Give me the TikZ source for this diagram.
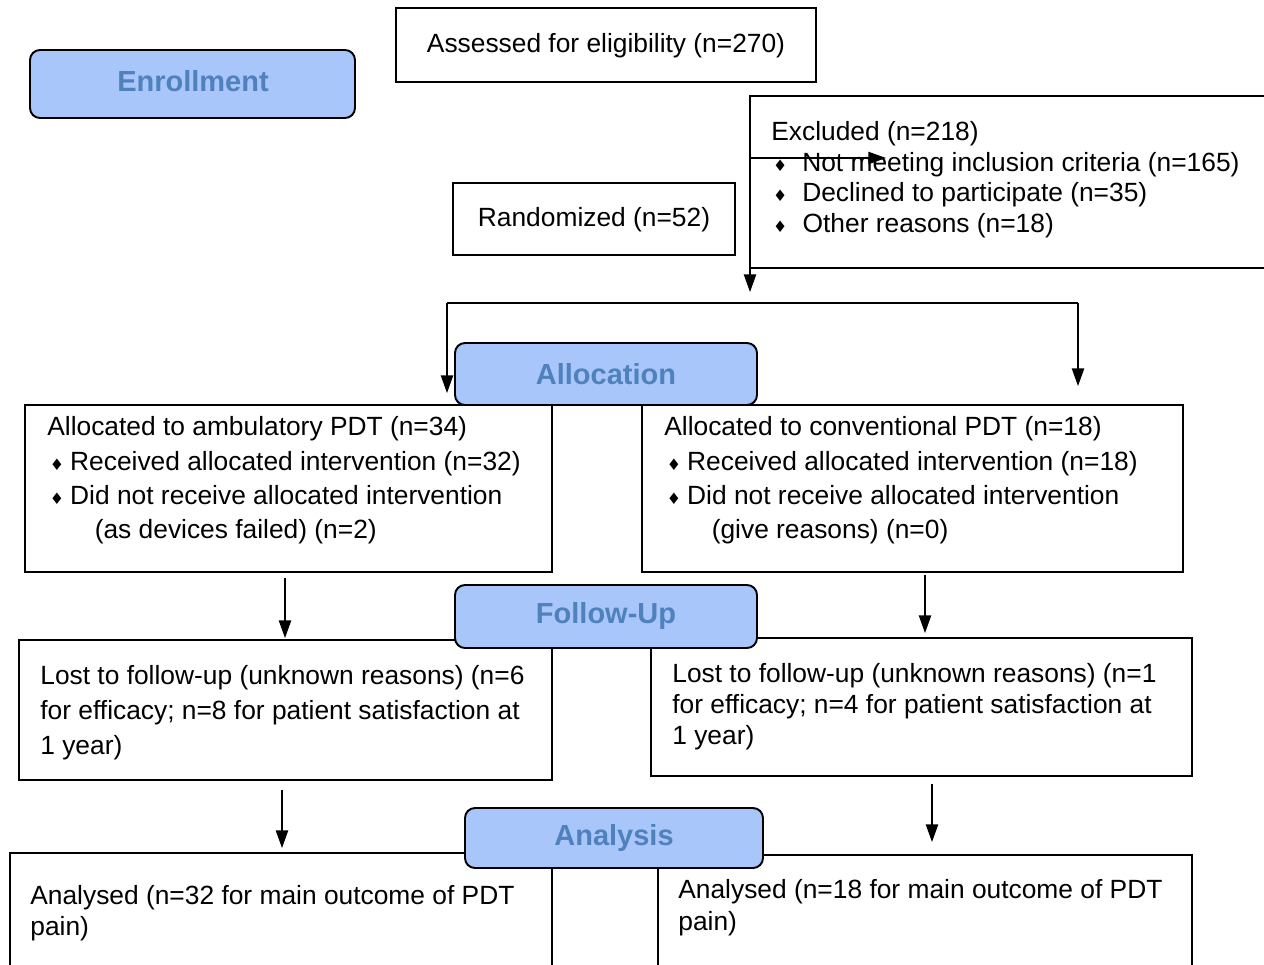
\documentclass[tikz,border=0pt]{standalone}
\usepackage{fontspec}
\setmainfont{Liberation Sans}
\newfontfamily\symfont{DejaVu Sans}
\usetikzlibrary{arrows.meta}
\definecolor{phasefill}{RGB}{168,198,250}
\definecolor{phasetext}{RGB}{79,129,189}
\newcommand{\bul}{{\symfont\fontsize{9}{9}\selectfont ♦}}
\newcommand{\itm}[2]{\makebox[#2][l]{\hspace*{#1}\bul}}
\tikzset{
  box/.style={draw, line width=1.1pt},
  phase/.style={draw, line width=1.1pt, fill=phasefill, rounded corners=0.2cm},
  phaselabel/.style={font=\fontsize{16.5}{18}\selectfont\bfseries, text=phasetext},
  txt/.style={anchor=north west, inner sep=0pt, align=left, font=\fontsize{15}{#1}\selectfont},
  txt/.default={19.4pt},
  flow/.style={-{Triangle[length=10pt,width=7pt]}, line width=0.7pt},
}

\begin{document}
\begin{tikzpicture}[x=0.02cm,y=-0.02cm]
\clip (0,0) rectangle (1264,964);
\fill[white] (0,0) rectangle (1264,964);
% boxes
\draw[box] (396,8) rectangle (816,82);
\draw[box] (750,96) rectangle (1275,268);
\draw[box] (453,183) rectangle (735,255);
\draw[box] (25,405) rectangle (552,572);
\draw[box] (642,405) rectangle (1183,572);
\draw[box] (19,640) rectangle (552,780);
\draw[box] (651,638) rectangle (1192,776);
\draw[box] (10,853) rectangle (552,980);
\draw[box] (658,855) rectangle (1192,980);

% texts
\draw(606,46) node[font=\fontsize{15}{18}\selectfont] (assess) {Assessed for eligibility (n=270)};
\draw(594,220) node[font=\fontsize{15}{18}\selectfont] (rand) {Randomized (n=52)};
\draw(771,121) node[txt=17.5pt] (excl) {Excluded (n=218)\\
  \itm{1pt}{17.6pt}Not meeting inclusion criteria (n=165)\\
  \itm{1pt}{17.6pt}Declined to participate (n=35)\\
  \itm{1pt}{17.8pt}Other reasons (n=18)};
\draw(47,416.5) node[txt] (allocA) {Allocated to ambulatory PDT (n=34)\\
  \itm{1.5pt}{13pt}Received allocated intervention (n=32)\\
  \itm{1.5pt}{13pt}Did not receive allocated intervention\\
  \hspace*{27pt}(as devices failed) (n=2)};
\draw(664,416.5) node[txt] (allocC) {Allocated to conventional PDT (n=18)\\
  \itm{1.5pt}{13pt}Received allocated intervention (n=18)\\
  \itm{1.5pt}{13pt}Did not receive allocated intervention\\
  \hspace*{27pt}(give reasons) (n=0)};
\draw(40,665.5) node[txt=19.9pt] (lostA) {Lost to follow-up (unknown reasons) (n=6\\
  for efficacy; n=8 for patient satisfaction at\\
  1 year)};
\draw(672,663.5) node[txt=17.6pt] (lostC) {Lost to follow-up (unknown reasons) (n=1\\
  for efficacy; n=4 for patient satisfaction at\\
  1 year)};
\draw(30,885.5) node[txt=17.1pt] (anaA) {Analysed (n=32 for main outcome of PDT\\
  pain)};
\draw(678,879.5) node[txt=18.2pt] (anaC) {Analysed (n=18 for main outcome of PDT\\
  pain)};

% connectors
\coordinate (exS) at (750,158);
\coordinate (exE) at (886,158);
\coordinate (rdE) at (750,292);
\coordinate (spL) at (447,303);
\coordinate (spR) at (1078,303);
\coordinate (spLE) at (447,393);
\coordinate (spRE) at (1078,386);
\coordinate (fuA) at (285,578);
\coordinate (fuAE) at (285,638);
\coordinate (fuC) at (925,575);
\coordinate (fuCE) at (925,633);
\coordinate (anA) at (282,790);
\coordinate (anAE) at (282,848);
\coordinate (anC) at (932,784);
\coordinate (anCE) at (932,842);
\draw[flow] (exS) -- (exE);
\draw[flow] (exS) -- (rdE);
\draw[line width=0.9pt] (spL) -- (spR);
\draw[flow] (spL) -- (spLE);
\draw[flow] (spR) -- (spRE);
\draw[flow] (fuA) -- (fuAE);
\draw[flow] (fuC) -- (fuCE);
\draw[flow] (anA) -- (anAE);
\draw[flow] (anC) -- (anCE);

% phase headers
\draw[phase] (30,50) rectangle (355,118);
\draw(193,81) node[phaselabel] (enroll) {Enrollment};
\draw[phase] (455,343) rectangle (757,405);
\draw(606,374) node[phaselabel] (alloc) {Allocation};
\draw[phase] (455,585) rectangle (757,648);
\draw(606,616) node[phaselabel] (follow) {Follow-Up};
\draw[phase] (465,808) rectangle (763,868);
\draw(614,838) node[phaselabel] (analysis) {Analysis};
\end{tikzpicture}
\end{document}
